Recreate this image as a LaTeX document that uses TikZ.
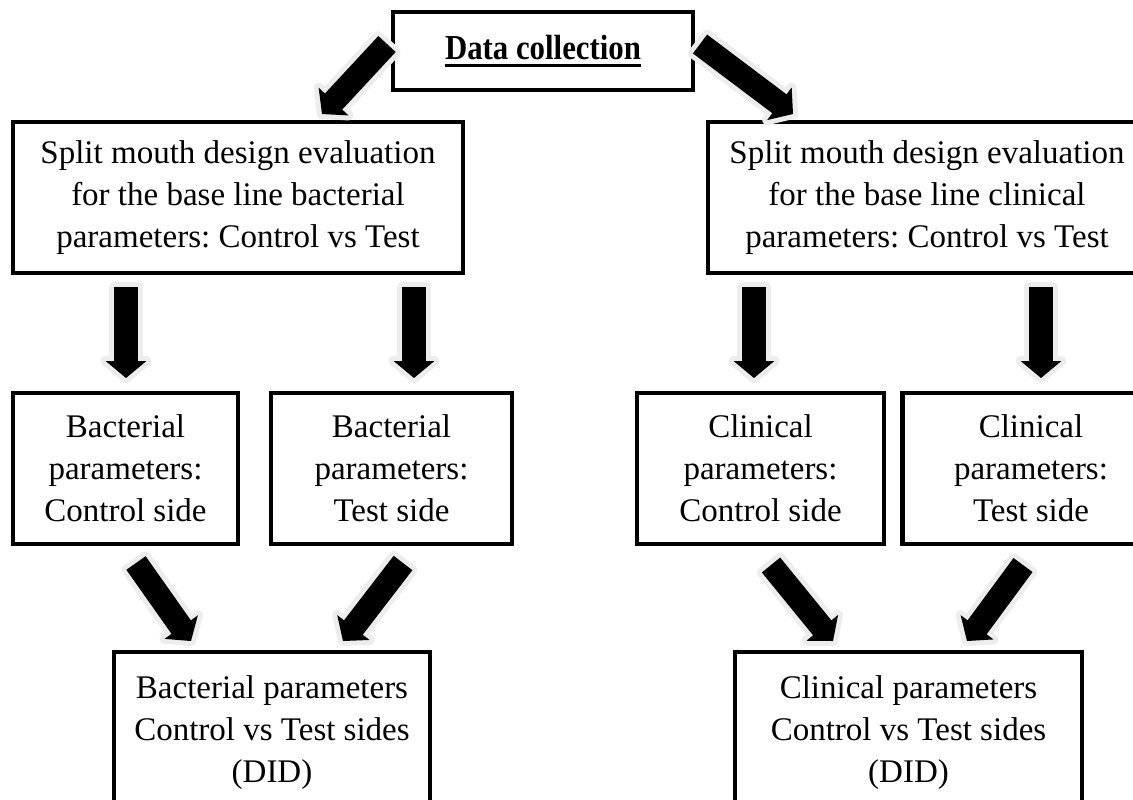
\documentclass[tikz,border=0pt]{standalone}
\usepackage{fontspec}
\setmainfont{Liberation Serif}
\usetikzlibrary{calc}
\frenchspacing
\newcommand\thickul[1]{\setbox0\hbox{#1}\rlap{\rule[-4pt]{\wd0}{1.5pt}}\box0}
\newcommand\blockarrow[2]{%
  \coordinate (hb) at ($(#2)!8.5pt!(#1)$);
  \path[blockarr] ($(#1)!5.9pt!90:(#2)$) -- ($(hb)!5.9pt!90:(#2)$) -- ($(hb)!10.2pt!90:(#2)$) -- (#2)
     -- ($(hb)!10.2pt!-90:(#2)$) -- ($(hb)!5.9pt!-90:(#2)$) -- ($(#1)!5.9pt!-90:(#2)$) -- cycle;}
\tikzset{
  box/.style={draw, line width=2.2pt, align=center, inner sep=0pt,
    font=\fontsize{16.5}{21}\selectfont},
  blockarr/.style={fill=black, preaction={draw=black!7, line width=5pt, line join=round}}
}
\begin{document}
\begin{tikzpicture}[x=0.5pt,y=-0.5pt]
\useasboundingbox (0,0) rectangle (1133,799);
% boxes
\node[box, minimum width=150pt, minimum height=39pt] (dc) at (543,51)
  {\fontsize{17.5}{21}\selectfont\scalebox{0.88}[1]{\bfseries\thickul{Data collection}}};
\node[box, minimum width=225pt, minimum height=75.5pt] (L1) at (238,197.5)
  {Split mouth design evaluation\\for the base line bacterial\\parameters: Control vs Test};
\node[box, minimum width=219pt, minimum height=75.5pt] (R1) at (927,197.5)
  {Split mouth design evaluation\\for the base line clinical\\parameters: Control vs Test};
\node[box, minimum width=112.5pt, minimum height=75.5pt] (B1) at (125.5,468.5)
  {Bacterial\\parameters:\\Control side};
\node[box, minimum width=120.5pt, minimum height=75.5pt] (B2) at (391.5,468.5)
  {Bacterial\\parameters:\\Test side};
\node[box, minimum width=123.5pt, minimum height=75.5pt] (C1) at (760.5,468.5)
  {Clinical\\parameters:\\Control side};
\node[box, minimum width=128.5pt, minimum height=75.5pt] (C2) at (1031,468.5)
  {Clinical\\parameters:\\Test side};
\node[box, minimum width=158pt, minimum height=81pt] (BL) at (272,733)
  {Bacterial parameters\\Control vs Test sides\\(DID)};
\node[box, minimum width=173.5pt, minimum height=81pt] (BR) at (908.5,733)
  {Clinical parameters\\Control vs Test sides\\(DID)};
% arrow end points
\coordinate (a1t) at (387,44);  \coordinate (a1h) at (322,114);
\coordinate (a2t) at (700,44);  \coordinate (a2h) at (793,114);
\coordinate (d1t) at (126,287); \coordinate (d1h) at (126,378);
\coordinate (d2t) at (414,287); \coordinate (d2h) at (414,378);
\coordinate (d3t) at (754,287); \coordinate (d3h) at (754,378);
\coordinate (d4t) at (1041,287);\coordinate (d4h) at (1041,378);
\coordinate (e1t) at (136,563); \coordinate (e1h) at (191,641);
\coordinate (e2t) at (403,563); \coordinate (e2h) at (343,641);
\coordinate (e3t) at (771,565); \coordinate (e3h) at (833,641);
\coordinate (e4t) at (1023,565);\coordinate (e4h) at (967,641);
\blockarrow{a1t}{a1h}
\blockarrow{a2t}{a2h}
\blockarrow{d1t}{d1h}
\blockarrow{d2t}{d2h}
\blockarrow{d3t}{d3h}
\blockarrow{d4t}{d4h}
\blockarrow{e1t}{e1h}
\blockarrow{e2t}{e2h}
\blockarrow{e3t}{e3h}
\blockarrow{e4t}{e4h}
\end{tikzpicture}
\end{document}
